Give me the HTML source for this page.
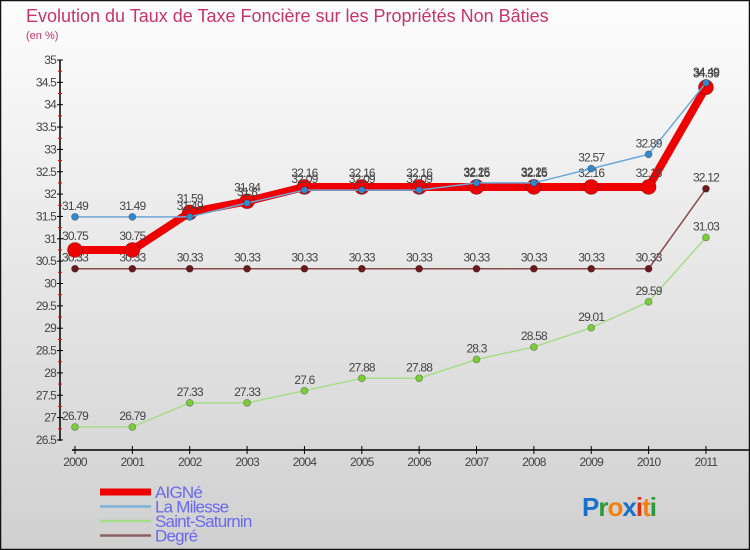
<!DOCTYPE html>
<html><head><meta charset="utf-8"><style>
body{margin:0;width:750px;height:550px;overflow:hidden;font-family:"Liberation Sans",sans-serif}
svg{display:block}
</style></head><body>
<svg id="chart" width="750" height="550" xmlns="http://www.w3.org/2000/svg">
<defs><linearGradient id="bg" x1="0" y1="0" x2="0" y2="1"><stop offset="0" stop-color="#fdfdfd"/><stop offset="1" stop-color="#d0d0d0"/></linearGradient></defs>
<rect x="0.5" y="0.5" width="749" height="549" fill="url(#bg)" stroke="#111" stroke-width="1.5"/>
<text x="26" y="22" font-size="18" fill="#c8336a">Evolution du Taux de Taxe Foncière sur les Propriétés Non Bâties</text>
<text x="26" y="39" font-size="11" fill="#c8336a">(en %)</text>
<g id="axes"></g>
<g id="series"></g>
<g id="legend"></g>
<text x="582" y="516" font-size="26" font-weight="bold" letter-spacing="-1"><tspan fill="#1a6fc8">P</tspan><tspan fill="#2a9a3a">r</tspan><tspan fill="#f08010">o</tspan><tspan fill="#1a6fc8">x</tspan><tspan fill="#e03010">i</tspan><tspan fill="#f08010">t</tspan><tspan fill="#2a9a3a">i</tspan></text>
</svg>
<script>
const years=["2000","2001","2002","2003","2004","2005","2006","2007","2008","2009","2010","2011"];
const yTicks=[26.5,27,27.5,28,28.5,29,29.5,30,30.5,31,31.5,32,32.5,33,33.5,34,34.5,35];
const aigne=[30.75,30.75,31.59,31.84,32.16,32.16,32.16,32.16,32.16,32.16,32.16,34.39];
const milesse=[31.49,31.49,31.49,31.8,32.09,32.09,32.09,32.25,32.25,32.57,32.89,34.49];
const saturnin=[26.79,26.79,27.33,27.33,27.6,27.88,27.88,28.3,28.58,29.01,29.59,31.03];
const degre=[30.33,30.33,30.33,30.33,30.33,30.33,30.33,30.33,30.33,30.33,30.33,32.12];
const NS="http://www.w3.org/2000/svg";
const X=i=>75+i*57.36;
const Y=v=>60+(35-v)*44.7;
function mk(t,a,p){const e=document.createElementNS(NS,t);for(const k in a)e.setAttribute(k,a[k]);p.appendChild(e);return e;}
const ax=document.getElementById('axes');
const ya=mk('line',{x1:60,y1:60,x2:60,y2:441,stroke:'#000','stroke-width':1.5},ax);


yTicks.forEach((v,i)=>{
  mk('line',{x1:57,y1:Y(v),x2:63,y2:Y(v),stroke:'#000'},ax);
  const t=mk('text',{x:56,y:Y(v)+4,'text-anchor':'end','font-size':12,fill:'#444','letter-spacing':'-0.8'},ax);
  
  
  t.textContent=String(v);
  if(i<yTicks.length-1)mk('line',{x1:58,y1:Y(v+0.25),x2:62,y2:Y(v+0.25),stroke:'#e00'},ax);
});
const xa=mk('line',{x1:72,y1:450,x2:750,y2:450,stroke:'#000','stroke-width':1.5},ax);


years.forEach((y,i)=>{
  mk('line',{x1:X(i),y1:446,x2:X(i),y2:454,stroke:'#000'},ax);
  const t=mk('text',{x:X(i),y:466,'text-anchor':'middle','font-size':12,fill:'#444','letter-spacing':'-0.8'},ax);
  
  
  t.textContent=y;
});
const sg=document.getElementById('series');
function draw(name,data,color,w,r,fill,off){
  const g=mk('g',{},sg);
  
  
  const pl=mk('polyline',{points:data.map((v,i)=>X(i)+','+Y(v)).join(' '),fill:'none',stroke:color,'stroke-width':w,'stroke-linejoin':'round'},g);
  
  
  data.forEach((v,i)=>{
    const c=mk('circle',{cx:X(i),cy:Y(v),r:r,fill:fill,stroke:'rgba(0,0,0,0.3)','stroke-width':0.8},g);
    
    
    const t=mk('text',{x:X(i),y:Y(v)-off,'text-anchor':'middle','font-size':12,fill:'#444','letter-spacing':'-0.8'},g);
    
    
    t.textContent=String(v);
  });
}
draw('saint-saturnin',saturnin,'#a6dd88',1.5,3.5,'#7ccc3a',7);
draw('degre',degre,'#8a4a4a',1.5,3.5,'#6a1a1a',7);
draw('aigne',aigne,'#ee0000',8,7.5,'#ee0000',10);
draw('la-milesse',milesse,'#6ea8d8',1.5,3.5,'#3388cc',7);
const lg=document.getElementById('legend');
const items=[["AIGNé","#ee0000",7],["La Milesse","#7fb0d8",2.5],["Saint-Saturnin","#a6dd88",2.5],["Degré","#8a6060",2.5]];
items.forEach((it,i)=>{
  const y=492+i*14.5;
  const g=mk('g',{},lg);
  
  
  mk('line',{x1:100,y1:y,x2:151,y2:y,stroke:it[1],'stroke-width':it[2]},g);
  const t=mk('text',{x:155,y:y+6,'font-size':17,fill:'#6a6aee','letter-spacing':'-0.8'},g);
  t.textContent=it[0];
});
</script>
</body></html>
